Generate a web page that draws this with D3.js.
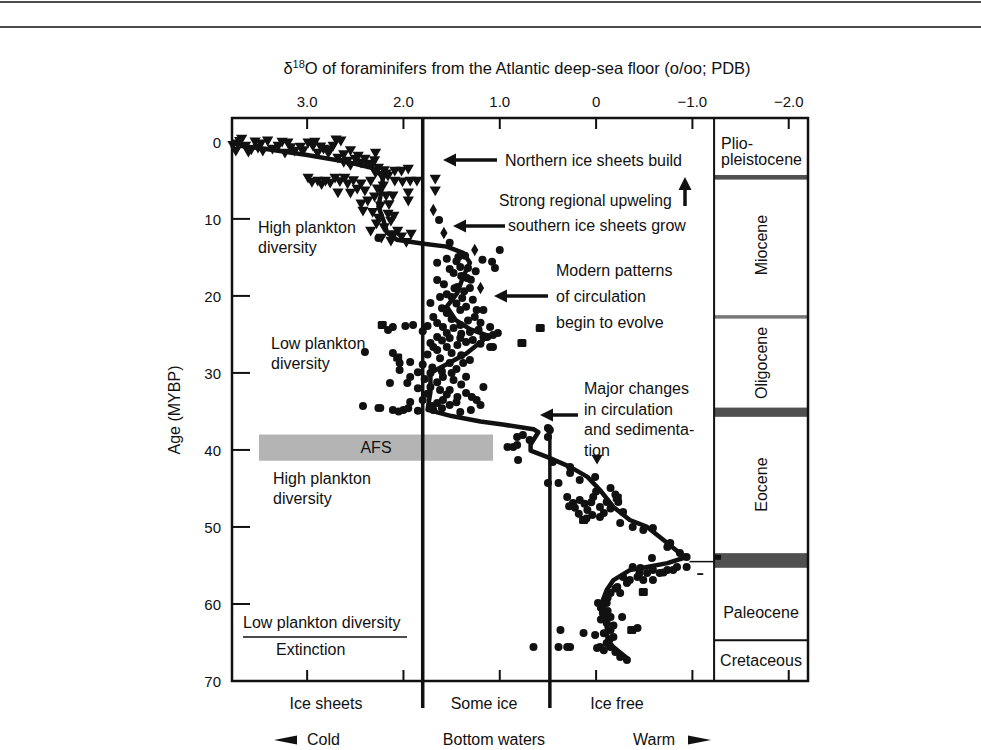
<!DOCTYPE html>
<html><head><meta charset="utf-8">
<script src="https://cdn.jsdelivr.net/npm/d3@7"></script>
<style>
body{margin:0;background:#fff;}
text{font-family:"Liberation Sans",Arial,Helvetica,sans-serif;fill:#111;}
</style></head>
<body>
<svg id="c" width="981" height="750"></svg>
<script>
// ---------- DATA ----------
const xTicks = [3, 2, 1, 0, -1, -2];
const xTickLabels = ["3.0", "2.0", "1.0", "0", "\u22121.0", "\u22122.0"];
const yTicks = [0, 10, 20, 30, 40, 50, 60, 70];

// [d18O, age Ma]
const triangles = [
[3.72,0.13],[3.61,1.17],[3.51,0.65],[3.41,-0.26],[3.30,0.39],[3.20,0],[3.13,1.04],[2.99,0],[2.89,1.3],[2.78,1.3],
[2.65,-0.26],[2.68,1.95],[2.58,2.34],[2.50,2.08],[2.44,2.6],[2.29,1.3],[2.37,2.73],[2.26,3.25],[3.64,0.39],[3.54,-0.13],
[3.46,1.04],[3.23,1.3],[3.07,0.52],[2.94,0.39],[2.83,0.78],[2.73,0.39],[3.74,1.04],[3.68,-0.5],
[3.77,0.3],[3.70,-0.2],[3.58,0.9],[3.48,0.1],[3.36,0.8],[3.26,-0.1],[3.17,0.6],[3.04,1.0],[2.92,-0.1],[2.86,0.5],
[2.76,0.9],[2.70,-0.4],[2.62,1.5],[2.55,1.0],[2.47,1.7],[2.40,2.1],[2.33,2.9],[2.30,2.3],[2.55,2.9],[2.62,2.5],
[2.99,4.55],[2.89,4.94],[2.81,4.94],[2.71,4.55],[2.61,4.55],[2.68,6.49],[2.58,5.32],[2.44,5.32],[2.40,6.23],[2.37,7.53],
[2.44,7.92],[2.42,8.83],[2.34,4.94],[2.09,3.64],[2.02,3.64],[1.95,3.38],[2.11,6.88],[1.95,6.49],[1.95,7.53],[2.26,9.74],
[2.16,9.22],[2.13,10.13],[2.34,11.43],[2.23,12.34],[2.13,12.73],[1.92,11.82],[2.06,11.43],[2.21,5.58],[2.18,6.88],[2.24,8.18],
[2.27,5.97],[2.16,4.29],[2.29,3.9],[2.09,4.94],[2.01,5.06],[1.93,4.94],[1.86,4.94],[1.67,4.68],[1.67,6.23],
[2.2,3.6],[2.18,4.0],[2.23,4.2],
[2.95,5.1],[2.85,5.4],[2.76,5.2],[2.66,5.0],[2.52,4.9],[2.48,6.0],[2.55,6.5],[2.30,7.0],[2.32,9.0],[2.28,10.5],
[2.20,11.0],[2.10,11.9],[2.02,12.2],[1.97,12.9],[2.15,8.0],[2.10,9.5],
[-0.01,41.04]
];
const diamonds = [[1.69,8.83],[1.58,11.82],[1.20,18.96],[1.26,14.03]];
const squares = [[0.58,24.16],[2.22,23.77],[-0.49,58.44],[0.13,49.09],[-0.37,63.38],[0.77,26.1],[2.06,28.0],[-0.22,46.2]];
const circles = [
[2.26,12.47],[1.63,10.13],[1.52,13.1],[1.0,14.03],[1.08,15.58],[1.05,16.36],[1.18,15.32],[1.65,15.71],[1.55,15.19],[1.43,14.94],
[1.41,16.23],[1.33,16.36],[1.34,17.66],[1.48,17.01],[1.65,17.92],[1.44,18.83],[1.50,20.13],[1.31,18.96],[1.39,20.26],[1.72,20.91],
[1.62,20.13],[1.24,21.82],[1.17,21.82],[1.26,22.73],[1.41,21.82],[1.55,22.21],[1.69,22.73],[1.65,23.51],[1.59,24.03],[1.48,24.16],
[1.41,23.77],[1.31,24.68],[1.10,24.03],[1.02,24.81],[1.13,25.32],[2.11,24.03],[1.98,23.9],[1.90,23.77],[2.16,24.42],[1.65,25.32],
[1.52,25.45],[1.41,25.45],[1.28,25.71],[1.07,26.62],[1.69,26.62],[2.11,27.4],[2.04,28.7],[2.04,29.61],[1.93,28.57],[2.14,31.3],
[1.96,31.3],[1.93,30.52],[2.26,34.55],[2.11,34.81],[2.0,34.81],[1.93,33.77],[1.72,26.1],[1.65,27.01],[1.55,26.62],[1.44,26.36],
[1.17,25.32],[1.07,25.06],[1.10,26.62],[1.38,28.7],[1.31,28.31],[1.52,28.7],[1.72,30.0],[1.59,30.52],[1.48,30.91],[1.72,31.82],
[1.62,32.21],[1.52,32.21],[1.44,33.12],[1.59,33.51],[1.65,33.9],[1.52,34.16],[1.17,31.82],[1.29,33.12],[1.24,33.51],[1.20,34.16],
[1.69,34.81],[1.41,35.06],[0.82,38.31],[0.76,38.05],[0.69,38.7],[0.86,39.61],[0.48,37.4],[2.40,27.27],[2.42,34.29],[2.24,34.55],
[0.50,37.14],[0.50,38.31],
[1.36,14.8],[1.45,15.5],[1.25,16.8],[1.52,16.5],[1.40,17.4],[1.30,17.9],[1.58,18.5],[1.37,19.4],[1.47,19.0],[1.55,19.8],
[1.28,20.5],[1.45,21.0],[1.35,21.4],[1.60,21.6],[1.50,23.0],[1.33,23.2],[1.20,23.5],[1.75,23.9],[1.80,24.6],[1.55,24.8],
[1.40,24.9],[1.22,24.4],[1.60,25.8],[1.35,26.0],[1.20,26.2],[1.50,27.4],[1.40,27.7],[1.75,27.6],[1.62,28.1],[1.80,28.9],
[1.70,29.3],[1.45,29.5],[1.60,29.8],[1.85,29.9],[1.50,30.0],[1.35,30.5],[1.78,30.8],[1.65,31.2],[1.40,31.5],[1.85,32.0],
[1.75,32.7],[1.55,32.8],[1.35,32.6],[1.80,33.5],[1.45,33.8],[1.70,34.3],[1.60,34.6],[1.30,34.8],[1.85,34.9],[2.05,35.0],
[1.95,34.6],
[0.92,39.61],[0.82,39.35],[0.81,41.3],[0.50,44.29],[0.39,44.29],[0.30,46.1],[0.24,46.88],[0.17,46.49],[0.09,47.79],[0.04,48.44],
[-0.04,47.4],[0.03,46.1],[-0.15,44.94],[-0.11,46.75],[-0.23,46.75],[-0.28,48.05],[-0.04,48.7],[0.01,43.51],[0.27,42.99],[0.17,43.9],
[0.45,41.56],[0.27,42.21],[-0.25,49.48],[-0.38,50.0],[-0.49,50.39],[-0.59,50.13],[-0.74,52.6],[-0.77,52.08],[-0.87,53.38],[-0.94,53.9],
[-0.58,54.03],[-0.38,55.19],[-0.46,55.32],[-0.59,55.58],[-0.74,55.58],[-0.84,55.19],[-0.94,55.19],[-0.53,55.97],[-0.66,55.97],[-0.43,56.49],
[-0.49,56.88],[-0.59,56.88],[-0.28,56.49],[-0.32,57.27],[-0.22,57.79],[-0.15,58.57],[-0.25,58.57],[-0.11,59.87],[-0.02,59.87],[-0.07,61.17],
[-0.15,61.69],[-0.11,62.47],[-0.15,63.38],[-0.27,61.69],[-0.18,64.29],[-0.11,65.06],[-0.04,65.58],[-0.01,65.71],[-0.15,65.58],[-0.20,66.23],
[-0.25,66.88],[-0.32,67.27],[-0.43,63.12],[0.01,64.03],[0.13,63.77],[0.37,63.38],[0.39,65.58],[0.27,65.58],[0.30,65.58],[0.65,65.58],
[0.22,47.5],[0.12,47.0],[0.05,46.8],[-0.08,48.2],[0.18,48.3],[0.10,48.9],[-0.15,47.6],[0.28,47.3],[0.00,45.4],[-0.20,45.8],
[-0.70,55.9],[-0.80,55.6],[-0.45,56.0],[-0.35,56.9],[-0.20,58.0],[-0.12,59.2],[-0.05,60.5],[-0.12,60.9],[-0.05,62.0],[-0.18,62.8],
[-0.08,63.8],[-0.14,64.6],[-0.08,66.0]
];
const curve = [
[3.7,0.5],[3.39,1.0],[3.0,1.7],[2.59,2.6],[2.32,3.4],[2.21,4.5],[2.24,7.1],[2.26,8.4],[2.21,10.1],[2.17,11.8],
[2.07,12.7],[1.81,13.2],[1.55,13.6],[1.38,14.4],[1.31,15.7],[1.38,17.5],[1.44,19.6],[1.55,21.4],[1.46,23.1],[1.31,24.3],
[1.12,25.2],[1.35,27.5],[1.72,30.0],[1.72,32.5],[1.75,34.8],[1.5,35.6],[1.2,36.3],[0.97,36.7],[0.65,37.3],[0.6,37.7],
[0.68,39.3],[0.68,40.1],[0.51,40.9],[0.27,42.2],[0.09,43.5],[-0.04,45.2],[-0.18,47.4],[-0.35,49.1],[-0.53,50.0],[-0.70,51.7],
[-0.87,53.4],[-0.94,53.9],[-0.74,54.7],[-0.53,55.2],[-0.35,55.6],[-0.18,56.9],[-0.11,58.2],[-0.07,59.5],[-0.09,61.2],[-0.11,63.0],
[-0.12,64.7],[-0.18,65.6],[-0.32,67.0]
];
// Epoch column
const epochBands = [[4.3,4.9,"#505050"],[22.5,22.95,"#777"],[34.5,35.7,"#505050"],[53.4,55.3,"#505050"]];
const ktBoundary = 64.7;
const iceLimits = [1.8, 0.48];   // thick vertical lines (ice sheets / some ice / ice free)
const afsBand = [3.5, 1.07, 38.0, 41.4]; // d18O from, to, age from, to
const columnEdge = -1.225;

// ---------- SCALES ----------
const svg = d3.select("#c");
const x = d3.scaleLinear().domain([3.78, -2.2]).range([232, 808]);
const y = d3.scaleLinear().domain([-3.1, 70]).range([118, 681]);
const X0 = x.range()[0], X1 = x.range()[1], Y0 = y.range()[0], Y1 = y.range()[1];
const FS = 16;

// header rules
svg.append("line").attr("x1",0).attr("x2",981).attr("y1",2).attr("y2",2).attr("stroke","#111").attr("stroke-width",1.5);
svg.append("line").attr("x1",0).attr("x2",981).attr("y1",27).attr("y2",27).attr("stroke","#111").attr("stroke-width",1.5);

// epoch bands
svg.selectAll(".band").data(epochBands).join("rect")
  .attr("x", x(columnEdge)).attr("width", X1 - x(columnEdge))
  .attr("y", d => y(d[0])).attr("height", d => y(d[1]) - y(d[0])).attr("fill", d => d[2]);
svg.append("line").attr("x1", x(columnEdge)).attr("x2", X1).attr("y1", y(ktBoundary)).attr("y2", y(ktBoundary))
  .attr("stroke","#111").attr("stroke-width",2);

// AFS band
svg.append("rect").attr("x", x(afsBand[0])).attr("width", x(afsBand[1]) - x(afsBand[0]))
  .attr("y", y(afsBand[2])).attr("height", y(afsBand[3]) - y(afsBand[2])).attr("fill","#b4b4b4");
svg.append("text").attr("x", (x(afsBand[0])+x(afsBand[1]))/2).attr("y", (y(afsBand[2])+y(afsBand[3]))/2 + 5.5)
  .attr("text-anchor","middle").attr("font-size",FS).text("AFS");

// frame
svg.append("rect").attr("x",X0).attr("y",Y0).attr("width",X1-X0).attr("height",Y1-Y0)
  .attr("fill","none").attr("stroke","#111").attr("stroke-width",2.5);
svg.append("line").attr("x1",x(columnEdge)).attr("x2",x(columnEdge)).attr("y1",Y0).attr("y2",Y1)
  .attr("stroke","#111").attr("stroke-width",2);

// ticks top & bottom
const tickLen = 11;
svg.selectAll(".tt").data(xTicks).join("line")
  .attr("x1", d=>x(d)).attr("x2", d=>x(d)).attr("y1", Y0).attr("y2", Y0+tickLen)
  .attr("stroke","#111").attr("stroke-width",2);
svg.selectAll(".tb").data(xTicks).join("line")
  .attr("x1", d=>x(d)).attr("x2", d=>x(d)).attr("y1", Y1).attr("y2", Y1-tickLen)
  .attr("stroke","#111").attr("stroke-width",2);
svg.selectAll(".tl").data(xTicks).join("text")
  .attr("x", d=>x(d)).attr("y", 107).attr("text-anchor","middle").attr("font-size",15)
  .text((d,i)=>xTickLabels[i]);
// left ticks
svg.selectAll(".ly").data(yTicks.filter(d=>d>0 && d<70)).join("line")
  .attr("x1", X0).attr("x2", X0+18).attr("y1", d=>y(d)).attr("y2", d=>y(d))
  .attr("stroke","#111").attr("stroke-width",2);
svg.selectAll(".lyl").data(yTicks).join("text")
  .attr("x", 221).attr("y", d=>y(d)+6).attr("text-anchor","end").attr("font-size",15).text(d=>d);

// thick vertical lines
svg.append("line").attr("x1",x(iceLimits[0])).attr("x2",x(iceLimits[0])).attr("y1",Y0).attr("y2",708)
  .attr("stroke","#111").attr("stroke-width",3.5);
svg.append("line").attr("x1",x(iceLimits[1])).attr("x2",x(iceLimits[1])).attr("y1",y(36.8)).attr("y2",708)
  .attr("stroke","#111").attr("stroke-width",3.5);

// data points
const g = svg.append("g");
g.selectAll(".ci").data(circles).join("circle")
  .attr("cx", d=>x(d[0])).attr("cy", d=>y(d[1])).attr("r",4).attr("fill","#111");
g.selectAll(".sq").data(squares).join("rect")
  .attr("x", d=>x(d[0])-4.5).attr("y", d=>y(d[1])-4).attr("width",9).attr("height",8).attr("rx",1.5).attr("fill","#111");
const tri = d3.symbol().type(d3.symbolTriangle).size(55);
g.selectAll(".tr").data(triangles).join("path")
  .attr("d", tri).attr("transform", d=>`translate(${x(d[0])},${y(d[1])}) rotate(180)`).attr("fill","#111");
const dia = d3.symbol().type(d3.symbolDiamond).size(45);
g.selectAll(".di").data(diamonds).join("path")
  .attr("d", dia).attr("transform", d=>`translate(${x(d[0])},${y(d[1])})`).attr("fill","#111");

// smoothed curve
g.append("path").datum(curve)
  .attr("d", d3.line().x(d=>x(d[0])).y(d=>y(d[1])))
  .attr("fill","none").attr("stroke","#111").attr("stroke-width",4.5).attr("stroke-linejoin","round");

// PETM marker
svg.append("line").attr("x1", x(-0.97)).attr("x2", x(columnEdge)).attr("y1", y(54.5)).attr("y2", y(54.5))
  .attr("stroke","#111").attr("stroke-width",1.5);
svg.append("rect").attr("x", x(columnEdge)+1).attr("y", y(54.0)-3).attr("width",6).attr("height",5).attr("fill","#111");
svg.append("rect").attr("x", x(-1.05)).attr("y", y(56.0)).attr("width",6).attr("height",1.8).attr("fill","#111");

// ---------- TEXT ----------
const title = svg.append("text").attr("x",517).attr("y",74).attr("text-anchor","middle").attr("font-size",16.5);
title.append("tspan").text("\u03b4");
title.append("tspan").attr("dy",-6).attr("font-size",11).text("18");
title.append("tspan").attr("dy",6).text("O of foraminifers from the Atlantic deep-sea floor (o/oo; PDB)");

svg.append("text").attr("transform","translate(180,410) rotate(-90)").attr("text-anchor","middle")
  .attr("font-size",16).text("Age (MYBP)");

function lines(xp, yp, arr, lh, size) {
  const t = svg.append("text").attr("x", xp).attr("y", yp).attr("font-size", size||FS);
  arr.forEach((s,i)=> t.append("tspan").attr("x", xp).attr("dy", i===0?0:(lh||20)).text(s));
}
lines(505,166,["Northern ice sheets build"]);
lines(499,206,["Strong regional upweling"],20,15.7);
lines(508,231,["southern ice sheets grow"]);
lines(556,276,["Modern patterns","of circulation","begin to evolve"],26);
lines(584,394,["Major changes","in circulation","and sedimenta-","tion"],20.5);
lines(258,233,["High plankton","diversity"],20);
lines(271,349,["Low plankton","diversity"],20);
lines(273,484,["High plankton","diversity"],19.5);
lines(243,628,["Low plankton diversity"]);
svg.append("line").attr("x1",243).attr("x2",407).attr("y1",637).attr("y2",637).attr("stroke","#111").attr("stroke-width",1.5);
lines(276,655,["Extinction"]);

// epoch labels
lines(721,149,["Plio-","pleistocene"],16);
svg.append("text").attr("transform",`translate(767,${y(13.4)}) rotate(-90)`).attr("text-anchor","middle").attr("font-size",FS).text("Miocene");
svg.append("text").attr("transform",`translate(767,${y(28.7)}) rotate(-90)`).attr("text-anchor","middle").attr("font-size",FS).text("Oligocene");
svg.append("text").attr("transform",`translate(767,${y(44.5)}) rotate(-90)`).attr("text-anchor","middle").attr("font-size",FS).text("Eocene");
svg.append("text").attr("x",761).attr("y",y(61)+6).attr("text-anchor","middle").attr("font-size",FS).text("Paleocene");
svg.append("text").attr("x",761).attr("y",y(67.3)+6).attr("text-anchor","middle").attr("font-size",FS).text("Cretaceous");

// bottom labels
svg.append("text").attr("x",326).attr("y",709).attr("text-anchor","middle").attr("font-size",FS).text("Ice sheets");
svg.append("text").attr("x",484).attr("y",709).attr("text-anchor","middle").attr("font-size",FS).text("Some ice");
svg.append("text").attr("x",617).attr("y",709).attr("text-anchor","middle").attr("font-size",FS).text("Ice free");
svg.append("text").attr("x",307).attr("y",745).attr("font-size",16).text("Cold");
svg.append("text").attr("x",494).attr("y",745).attr("text-anchor","middle").attr("font-size",16).text("Bottom waters");
svg.append("text").attr("x",633).attr("y",745).attr("font-size",16).text("Warm");
svg.append("path").attr("d","M274,740 L297,735.5 L297,744.5 Z").attr("fill","#111");
svg.append("path").attr("d","M711,740 L688,735.5 L688,744.5 Z").attr("fill","#111");

// arrows
function arrow(x1,y1,x2,y2){ // tail -> tip
  const ang = Math.atan2(y2-y1,x2-x1), L=13, W=6.5;
  const bx = x2 - L*Math.cos(ang), by = y2 - L*Math.sin(ang);
  svg.append("line").attr("x1",x1).attr("y1",y1).attr("x2",bx).attr("y2",by).attr("stroke","#111").attr("stroke-width",3.5);
  const px = -Math.sin(ang)*W, py = Math.cos(ang)*W;
  svg.append("path").attr("d",`M${x2},${y2} L${bx+px},${by+py} L${bx-px},${by-py} Z`).attr("fill","#111");
}
arrow(497,160,443,160);
arrow(685,206,685,177);
arrow(505,226,453,226);
arrow(548,296,494,296);
arrow(578,415,540,415);
</script>
</body></html>
